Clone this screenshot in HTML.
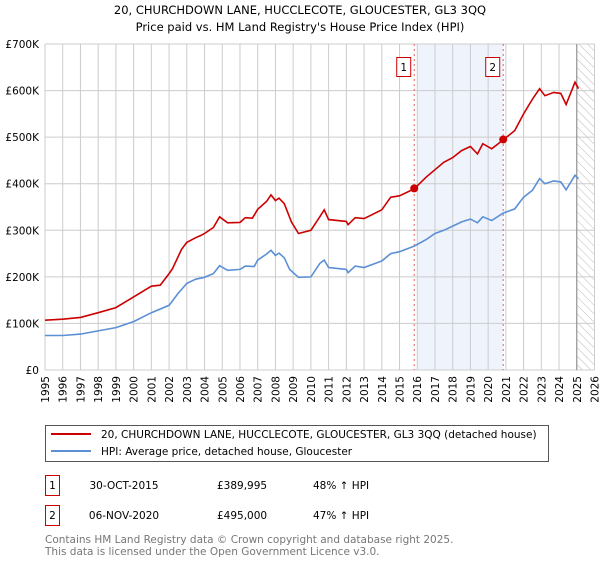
<!DOCTYPE html>
<html><head><meta charset="utf-8"><style>
body{margin:0;background:#fff;font-family:"DejaVu Sans","Liberation Sans",sans-serif;}
svg text{font-family:"DejaVu Sans","Liberation Sans",sans-serif;}
</style></head><body>
<svg id="chart" width="600" height="560" viewBox="0 0 600 560" xmlns="http://www.w3.org/2000/svg">
<defs><pattern id="hatch" width="6" height="6" patternUnits="userSpaceOnUse" patternTransform="rotate(-45)"><line x1="0" y1="0" x2="0" y2="6" stroke="#bbb" stroke-width="1"/></pattern></defs>
<text x="300" y="14" text-anchor="middle" font-size="11.5">20, CHURCHDOWN LANE, HUCCLECOTE, GLOUCESTER, GL3 3QQ</text>
<text x="300" y="31" text-anchor="middle" font-size="11.5">Price paid vs. HM Land Registry's House Price Index (HPI)</text>
<g id="grid"></g><g id="plot"></g>
<g>
<rect x="45.5" y="425.5" width="503" height="36" fill="#fff" stroke="#555"/>
<line x1="51" y1="434" x2="91" y2="434" stroke="#cc0000" stroke-width="2"/>
<text x="101" y="438" font-size="10.5">20, CHURCHDOWN LANE, HUCCLECOTE, GLOUCESTER, GL3 3QQ (detached house)</text>
<line x1="51" y1="451" x2="91" y2="451" stroke="#5b8fd6" stroke-width="2"/>
<text x="101" y="455" font-size="10.5">HPI: Average price, detached house, Gloucester</text>
</g>
<g font-size="10.5">
<rect x="45.5" y="475.5" width="14" height="20" fill="#fff" stroke="#cc0000"/>
<text x="52.5" y="489" text-anchor="middle">1</text>
<text x="124" y="489" text-anchor="middle">30-OCT-2015</text>
<text x="217" y="489">£389,995</text>
<text x="313" y="489">48% ↑ HPI</text>
<rect x="45.5" y="505.5" width="14" height="20" fill="#fff" stroke="#cc0000"/>
<text x="52.5" y="519" text-anchor="middle">2</text>
<text x="124" y="519" text-anchor="middle">06-NOV-2020</text>
<text x="217" y="519">£495,000</text>
<text x="313" y="519">47% ↑ HPI</text>
</g>
<text x="45" y="543" font-size="10.5" fill="#777">Contains HM Land Registry data © Crown copyright and database right 2025.</text>
<text x="45" y="555" font-size="10.5" fill="#777">This data is licensed under the Open Government Licence v3.0.</text>
</svg>
<script>
const hpiYears=[1995,1996,1997,1998,1999,2000,2001,2002,2002.5,2003,2003.5,2004,2004.5,2004.85,2005.3,2006,2006.3,2006.8,2007,2007.5,2007.75,2008,2008.2,2008.5,2008.8,2009.3,2010,2010.5,2010.75,2011,2012,2012.1,2012.5,2013,2014,2014.5,2015,2015.83,2016.5,2017,2017.5,2018,2018.5,2019,2019.4,2019.7,2020.2,2020.85,2021.5,2022,2022.5,2022.9,2023.2,2023.7,2024.1,2024.4,2024.9,2025.1];
const hpiValues=[74,74,77,84,91,104,123,139,164,186,195,199,207,224,214,216,223,222,236,249,257,246,251,241,216,199,200,229,236,220,216,209,223,220,234,250,254,266,280,293,300,309,318,324,316,329,321,337,346,371,386,411,400,406,404,387,418,411];
const propYears=[1995,1996,1997,1998,1999,2000,2001,2001.5,2002,2002.2,2002.7,2003,2003.5,2003.8,2004,2004.5,2004.85,2005.3,2006,2006.3,2006.7,2007,2007.5,2007.75,2008,2008.2,2008.5,2008.9,2009.3,2010,2010.5,2010.75,2011,2012,2012.1,2012.5,2013,2014,2014.5,2015,2015.83,2016.5,2017,2017.5,2018,2018.5,2019,2019.4,2019.7,2020.2,2020.85,2021.5,2022,2022.5,2022.9,2023.2,2023.7,2024.1,2024.4,2024.9,2025.1];
const propValues=[107,109,113,123,134,157,180,182,207,218,259,274,284,289,293,306,329,316,317,327,326,345,362,376,364,369,357,318,293,300,329,344,323,319,312,327,325,344,371,374,389,414,430,446,456,471,480,464,486,475,494,514,550,582,604,589,596,594,570,618,604];
const saleYears=[2015.83,2020.85];
const saleValues=[389.995,495];
const saleLabels=["1","2"];
const yTicks=[0,100,200,300,400,500,600,700];
const yTickLabels=["£0","£100K","£200K","£300K","£400K","£500K","£600K","£700K"];
const xTicks=[1995,1996,1997,1998,1999,2000,2001,2002,2003,2004,2005,2006,2007,2008,2009,2010,2011,2012,2013,2014,2015,2016,2017,2018,2019,2020,2021,2022,2023,2024,2025,2026];

const X0=45,X1=594.5,Y0=370,Y1=44;
const xs=y=>X0+(y-1995)/(2026-1995)*(X1-X0);
const ys=v=>Y0-v/700*(Y0-Y1);
const NS="http://www.w3.org/2000/svg";
const grid=document.getElementById('grid'),plot=document.getElementById('plot');
function mk(tag,attrs,parent){const e=document.createElementNS(NS,tag);for(const k in attrs)e.setAttribute(k,attrs[k]);parent.appendChild(e);return e;}
let r=mk('rect',{x:xs(2016),y:Y1,width:xs(saleYears[1])-xs(2016),height:Y0-Y1,fill:'#eef3fc'},grid);


let h=mk('rect',{x:xs(2025),y:Y1,width:X1-xs(2025),height:Y0-Y1,fill:'url(#hatch)'},grid);


xTicks.forEach(t=>{
 let l=mk('line',{x1:xs(t),x2:xs(t),y1:Y1,y2:Y0,stroke:'#ccc','stroke-width':1},grid);
 
 
 let tx=mk('text',{x:0,y:0,'font-size':10.5,'text-anchor':'end',transform:`translate(${xs(t)+4},${Y0+6}) rotate(-90)`},grid);
 tx.textContent=t;
 
 
});
yTicks.forEach((t,i)=>{
 let l=mk('line',{x1:X0,x2:X1,y1:ys(t),y2:ys(t),stroke:'#ccc','stroke-width':1},grid);
 
 
 let tx=mk('text',{x:X0-6,y:ys(t)+4,'font-size':10.5,'text-anchor':'end'},grid);
 tx.textContent=yTickLabels[i];
 
 
});
let nl=mk('line',{x1:xs(2025),x2:xs(2025),y1:Y1,y2:Y0,stroke:'#888','stroke-width':1},grid);


saleYears.forEach((s,i)=>{
 let l=mk('line',{x1:xs(s),x2:xs(s),y1:Y1,y2:Y0,stroke:'#e06060','stroke-width':1,'stroke-dasharray':'2,3'},plot);
 
 
 let b=mk('rect',{x:xs(s)-17.5,y:57.5,width:14,height:19,fill:'#fff',stroke:'#cc0000'},plot);
 
 
 let t=mk('text',{x:xs(s)-10.5,y:71,'font-size':10.5,'text-anchor':'middle'},plot);
 t.textContent=saleLabels[i];
 
 
});
const path=(xsA,vs)=>xsA.map((y,i)=>(i?'L':'M')+xs(y).toFixed(1)+','+ys(vs[i]).toFixed(1)).join('');
let p1=mk('path',{d:path(hpiYears,hpiValues),fill:'none',stroke:'#5b8fd6','stroke-width':1.6},plot);


let p2=mk('path',{d:path(propYears,propValues),fill:'none',stroke:'#cc0000','stroke-width':1.6},plot);


saleYears.forEach((s,i)=>{
 let c=mk('circle',{cx:xs(s),cy:ys(saleValues[i]),r:4,fill:'#cc0000'},plot);
 
 
});
</script>
</body></html>
